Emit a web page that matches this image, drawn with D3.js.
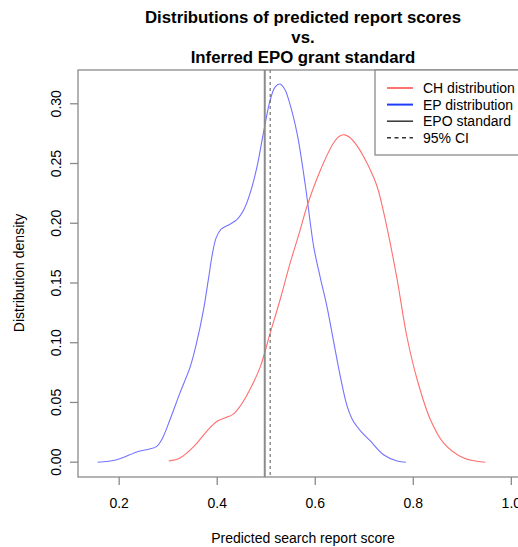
<!DOCTYPE html>
<html><head><meta charset="utf-8">
<script src="https://cdn.jsdelivr.net/npm/d3@7"></script>
<style>body{margin:0;background:#fff}svg{display:block;font-family:"Liberation Sans",Arial,Helvetica,sans-serif}</style>
</head><body><svg id="c" width="518" height="547"></svg>
<script>
const titleLines = ["Distributions of predicted report scores", "vs.", "Inferred EPO grant standard"];
const xTicks = [0.2, 0.4, 0.6, 0.8, 1.0];
const yTicks = [0, 0.05, 0.10, 0.15, 0.20, 0.25, 0.30];
const epScore   = [0.156,0.195,0.239,0.262,0.276,0.287,0.304,0.324,0.345,0.358,0.372,0.382,0.390,0.398,0.408,0.425,0.440,0.455,0.467,0.481,0.494,0.508,0.518,0.528,0.538,0.546,0.563,0.580,0.597,0.610,0.624,0.637,0.651,0.665,0.678,0.695,0.712,0.740,0.767,0.785];
const epDensity = [0.000,0.002,0.009,0.011,0.013,0.019,0.036,0.058,0.080,0.100,0.1275,0.153,0.174,0.188,0.195,0.199,0.203,0.212,0.225,0.247,0.275,0.303,0.314,0.3165,0.312,0.303,0.275,0.231,0.180,0.155,0.130,0.102,0.072,0.047,0.034,0.025,0.018,0.006,0.001,0.000];
const chScore   = [0.301,0.324,0.352,0.379,0.399,0.415,0.432,0.447,0.467,0.488,0.508,0.529,0.549,0.569,0.583,0.610,0.637,0.650,0.660,0.670,0.685,0.706,0.726,0.746,0.767,0.787,0.808,0.835,0.862,0.903,0.947];
const chDensity = [0.001,0.0035,0.013,0.026,0.034,0.037,0.040,0.047,0.061,0.080,0.108,0.137,0.167,0.194,0.214,0.244,0.267,0.273,0.274,0.272,0.265,0.250,0.231,0.197,0.153,0.105,0.069,0.0355,0.016,0.0035,0.000];
const epoStandard = 0.497;
const ciBound = 0.508;
const legendLabels = ["CH distribution", "EP distribution", "EPO standard", "95% CI"];

const svg = d3.select("#c");
const x = d3.scaleLinear().domain([0.116, 1.034]).range([78, 528]);
const y = d3.scaleLinear().domain([-0.01264, 0.3286]).range([477.3, 69.6]);
const axisCol = "#8a8a8a";

// title
svg.selectAll("text.title").data(titleLines).join("text")
  .attr("class","title").attr("x",303).attr("y",(d,i)=>17+i*20)
  .attr("text-anchor","middle").attr("dominant-baseline","central")
  .style("font-weight","bold").style("font-size","16.8px").attr("fill","#000").text(d=>d);

// curves
const line = d3.line().x(d=>x(d[0])).y(d=>y(d[1])).curve(d3.curveCatmullRom.alpha(0.5));
svg.append("path").attr("d", line(d3.zip(epScore, epDensity)))
  .attr("fill","none").attr("stroke","#7373ff").attr("stroke-width",1.1);
svg.append("path").attr("d", line(d3.zip(chScore, chDensity)))
  .attr("fill","none").attr("stroke","#ff6f6f").attr("stroke-width",1.1);

// vertical lines
svg.append("line").attr("x1",x(epoStandard)).attr("x2",x(epoStandard)).attr("y1",70).attr("y2",477)
  .attr("stroke","#8c8c8c").attr("stroke-width",2);
svg.append("line").attr("x1",x(ciBound)).attr("x2",x(ciBound)).attr("y1",70).attr("y2",477)
  .attr("stroke","#555").attr("stroke-width",1).attr("stroke-dasharray","3,3");

// box
svg.append("rect").attr("x",78).attr("y",70).attr("width",450).attr("height",407)
  .attr("fill","none").attr("stroke",axisCol).attr("stroke-width",1.3);

// x axis
const xa = svg.append("g");
xa.selectAll("line").data(xTicks).join("line")
  .attr("x1",d=>x(d)).attr("x2",d=>x(d)).attr("y1",477).attr("y2",485)
  .attr("stroke",axisCol).attr("stroke-width",1.3);
xa.selectAll("text").data(xTicks).join("text")
  .attr("x",d=>x(d)).attr("y",503).attr("text-anchor","middle").attr("dominant-baseline","central")
  .style("font-size","14px").attr("fill","#000").text(d=>d3.format(".1f")(d));
svg.append("text").attr("x",303).attr("y",538).attr("text-anchor","middle").attr("dominant-baseline","central")
  .style("font-size","14px").text("Predicted search report score");

// y axis
const ya = svg.append("g");
ya.selectAll("line").data(yTicks).join("line")
  .attr("x1",70).attr("x2",78).attr("y1",d=>y(d)).attr("y2",d=>y(d))
  .attr("stroke",axisCol).attr("stroke-width",1.3);
ya.selectAll("text").data(yTicks).join("text")
  .attr("transform",d=>`translate(56,${y(d)}) rotate(-90)`)
  .attr("text-anchor","middle").attr("dominant-baseline","central")
  .style("font-size","14px").text(d=>d3.format(".2f")(d));
svg.append("text").attr("transform","translate(19,273) rotate(-90)")
  .attr("text-anchor","middle").attr("dominant-baseline","central")
  .style("font-size","14px").text("Distribution density");

// legend
const lg = svg.append("g");
lg.append("rect").attr("x",375).attr("y",70).attr("width",160).attr("height",85)
  .attr("fill","#fff").attr("stroke",axisCol).attr("stroke-width",1.3);
const lgStyle = [
  {c:"#ff5050", w:1.6, dash:null},
  {c:"#1f3cff", w:2, dash:null},
  {c:"#333", w:1.5, dash:null},
  {c:"#333", w:1.5, dash:"4,3.5"}
];
lgStyle.forEach((s,i)=>{
  const yy = 88 + i*16.6;
  lg.append("line").attr("x1",387).attr("x2",413).attr("y1",yy).attr("y2",yy)
    .attr("stroke",s.c).attr("stroke-width",s.w).attr("stroke-dasharray",s.dash);
  lg.append("text").attr("x",423).attr("y",yy).attr("dominant-baseline","central")
    .style("font-size","14px").text(legendLabels[i]);
});
</script></body></html>
